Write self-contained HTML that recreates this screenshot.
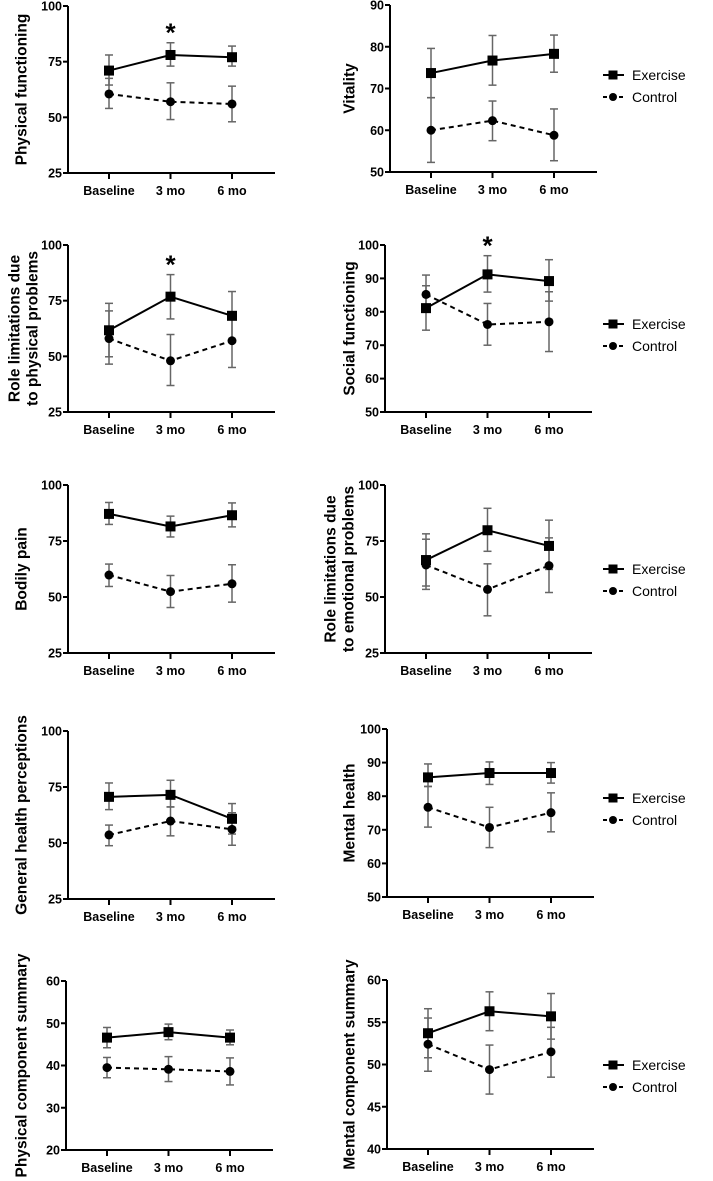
<!DOCTYPE html>
<html><head><meta charset="utf-8">
<style>
html,body{margin:0;padding:0;background:#fff;}
svg{display:block;font-family:"Liberation Sans",Arial,sans-serif;}
</style></head>
<body>
<svg id="fig" width="713" height="1181" viewBox="0 0 713 1181" xmlns="http://www.w3.org/2000/svg"></svg>
<script>
// ---- data ----
const categories = ["Baseline", "3 mo", "6 mo"];
const panelTitles = [
  ["Physical functioning"], ["Vitality"],
  ["Role limitations due", "to physical problems"], ["Social functioning"],
  ["Bodily pain"], ["Role limitations due", "to emotional problems"],
  ["General health perceptions"], ["Mental health"],
  ["Physical component summary"], ["Mental component summary"]
];
const yMin = [25, 50, 25, 50, 25, 25, 25, 50, 20, 40];
const yMax = [100, 90, 100, 100, 100, 100, 100, 100, 60, 60];
const yTickStep = [25, 10, 25, 10, 25, 25, 25, 10, 10, 5];
const exerciseMean = [[71,78,77],[73.7,76.7,78.3],[61.7,76.8,68.2],[81.1,91.2,89.2],[87.1,81.5,86.5],[66.5,79.8,72.8],[70.6,71.5,60.8],[85.6,86.9,86.9],[46.6,47.9,46.6],[53.7,56.3,55.7]];
const exerciseLow = [[64.5,73,73],[67.8,70.8,73.9],[49.8,66.8,57.5],[79.9,85.9,83.2],[82.4,76.8,81.3],[54.9,70.4,62.3],[64.9,66.1,54],[82.9,83.5,83.9],[44.2,46.1,44.9],[50.8,54,53]];
const exerciseHigh = [[78,83.5,82],[79.6,82.7,82.8],[73.8,86.7,79.1],[87.8,96.8,95.6],[92.2,86.1,92],[78.2,89.6,84.3],[76.8,78,67.6],[89.6,90.2,90],[49,49.8,48.4],[56.6,58.6,58.4]];
const controlMean = [[60.5,57,56],[60,62.3,58.8],[58,48,57],[85.2,76.2,77],[59.8,52.4,55.9],[64.3,53.4,64],[53.6,59.8,56.1],[76.7,70.7,75.1],[39.5,39.1,38.6],[52.4,49.4,51.5]];
const controlLow = [[54,49,48],[52.3,57.5,52.7],[46.5,36.9,45],[74.5,70,68.1],[54.7,45.3,47.7],[53.4,41.6,52],[48.8,53.2,49],[70.8,64.7,69.4],[37.1,36.2,35.4],[49.2,46.5,48.5]];
const controlHigh = [[67.5,65.5,64],[67.8,67,65.1],[70.4,59.8,69],[91,82.5,86],[64.7,59.6,64.4],[75.8,64.8,76.4],[58,66.1,63.5],[82.9,76.7,81],[41.9,42.1,41.8],[55.5,52.3,54.4]];
const significantAt = [[1],[],[1],[1],[],[],[],[],[],[]];

// ---- layout (pixels) ----
const layout = [
  {ax:68, top:6, bot:173},{ax:390, top:5, bot:172},
  {ax:68, top:245, bot:412},{ax:385, top:245, bot:412},
  {ax:68, top:485, bot:653},{ax:385, top:485, bot:653},
  {ax:68, top:731, bot:899},{ax:387, top:729, bot:897},
  {ax:66, top:981, bot:1150},{ax:387, top:980, bot:1149}
];
const legendY = [null,75,null,324,null,569,null,798,null,1065];

const NS = "http://www.w3.org/2000/svg";
const svg = document.getElementById('fig');
function mk(tag, attrs, parent){
  const e = document.createElementNS(NS, tag);
  for (const k in attrs) e.setAttribute(k, attrs[k]);
  (parent||svg).appendChild(e);
  return e;
}

layout.forEach((L, p) => {
  const g = mk('g', {});
  
  
  const xEnd = L.ax + 207;
  const xScale = i => L.ax + 41 + i * 61.5;
  const yScale = v => L.bot - (v - yMin[p]) / (yMax[p] - yMin[p]) * (L.bot - L.top);
  const isLeft = p % 2 === 0;

  const ya = mk('line', {x1:L.ax, y1:L.top, x2:L.ax, y2:L.bot+1, stroke:'#000','stroke-width':2}, g);
  
  
  const xa = mk('line', {x1:L.ax-1, y1:L.bot, x2:xEnd, y2:L.bot, stroke:'#000','stroke-width':2}, g);
  
  

  for (let v = yMin[p]; v <= yMax[p] + 0.001; v += yTickStep[p]) {
    const y = yScale(v);
    mk('line', {x1:L.ax-5, y1:y, x2:L.ax, y2:y, stroke:'#000','stroke-width':2}, g);
    const t = mk('text', {x:L.ax-6, y:y+4.5, 'text-anchor':'end','font-size':12.5,'font-weight':'bold'}, g);
    t.textContent = v;
    
    
  }
  categories.forEach((c, i) => {
    const x = xScale(i);
    mk('line', {x1:x, y1:L.bot, x2:x, y2:L.bot+6, stroke:'#000','stroke-width':2}, g);
    const t = mk('text', {x:x, y:L.bot+22, 'text-anchor':'middle','font-size':12.5,'font-weight':'bold'}, g);
    t.textContent = c;
    
    
  });

  const lines = panelTitles[p];
  const cy = (L.top + L.bot) / 2;
  const cx = isLeft ? (lines.length > 1 ? 15 : 22) : (lines.length > 1 ? 331 : 350);
  lines.forEach((ln, k) => {
    const x = cx + k * 18;
    const t = mk('text', {x:x, y:cy, 'text-anchor':'middle','font-size':15.5,'font-weight':'bold',
      transform:'rotate(-90 '+x+' '+cy+')', 'dominant-baseline':'central'}, g);
    t.textContent = ln;
    
    
  });

  function errBars(lo, hi, name) {
    lo.forEach((l, i) => {
      const x = xScale(i), y1 = yScale(l), y2 = yScale(hi[i]);
      const eb = mk('g', {stroke:'#666','stroke-width':1.5}, g);
      
      
      mk('line', {x1:x, y1:y1, x2:x, y2:y2}, eb);
      mk('line', {x1:x-4, y1:y1, x2:x+4, y2:y1}, eb);
      mk('line', {x1:x-4, y1:y2, x2:x+4, y2:y2}, eb);
    });
  }
  errBars(controlLow[p], controlHigh[p], 'control-error-bar');
  errBars(exerciseLow[p], exerciseHigh[p], 'exercise-error-bar');

  const cPts = controlMean[p].map((v, i) => xScale(i) + ',' + yScale(v)).join(' ');
  const cl = mk('polyline', {points:cPts, fill:'none', stroke:'#000','stroke-width':2,'stroke-dasharray':'5,4'}, g);
  
  
  const ePts = exerciseMean[p].map((v, i) => xScale(i) + ',' + yScale(v)).join(' ');
  const el = mk('polyline', {points:ePts, fill:'none', stroke:'#000','stroke-width':2}, g);
  
  

  controlMean[p].forEach((v, i) => {
    const c = mk('circle', {cx:xScale(i), cy:yScale(v), r:4.5, fill:'#000'}, g);
    
    
  });
  exerciseMean[p].forEach((v, i) => {
    const r = mk('rect', {x:xScale(i)-5, y:yScale(v)-5, width:10, height:10, fill:'#000'}, g);
    
    
  });

  significantAt[p].forEach(i => {
    const sy = yScale(Math.max(exerciseHigh[p][i], controlHigh[p][i])) - 1;
    const s = mk('text', {x:xScale(i), y:sy, 'text-anchor':'middle','font-size':26,'font-weight':'bold'}, g);
    s.textContent = '*';
    
    
  });

  if (legendY[p] !== null) {
    const ly = legendY[p];
    const lg = mk('g', {}, g);
    
    
    const e1 = mk('g', {}, lg);
    
    
    mk('line', {x1:603, y1:ly, x2:624, y2:ly, stroke:'#000','stroke-width':2}, e1);
    mk('rect', {x:608.5, y:ly-4.5, width:9, height:9, fill:'#000'}, e1);
    const t1 = mk('text', {x:632, y:ly+5, 'font-size':14}, e1);
    t1.textContent = 'Exercise';
    const e2 = mk('g', {}, lg);
    
    
    mk('line', {x1:603, y1:ly+22, x2:624, y2:ly+22, stroke:'#000','stroke-width':2,'stroke-dasharray':'4,4'}, e2);
    mk('circle', {cx:613, cy:ly+22, r:4, fill:'#000'}, e2);
    const t2 = mk('text', {x:632, y:ly+27, 'font-size':14}, e2);
    t2.textContent = 'Control';
  }
});
</script>
</body></html>
